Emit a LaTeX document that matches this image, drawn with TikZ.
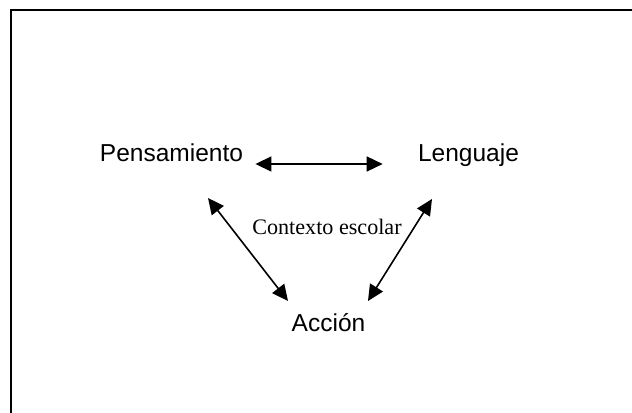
\documentclass[tikz,border=0pt]{standalone}
\usepackage{fontspec}
\setmainfont{Liberation Serif}
\setsansfont{Liberation Sans}
\usepackage{tikz}
\usetikzlibrary{arrows.meta}

\begin{document}
\begin{tikzpicture}[>={Triangle[length=8bp,width=7.5bp]},x=0.5bp,y=-0.5bp]
  \tikzstyle{word}=[inner sep=0pt,anchor=base,font=\sffamily\fontsize{12.3}{14}\selectfont]
  \tikzstyle{ctxtext}=[inner sep=0pt,anchor=base,font=\rmfamily\fontsize{11.1}{13}\selectfont]
  \tikzstyle{link}=[<->,line width=0.8bp]
  \useasboundingbox (0,0) rectangle (632,413);
  % frame (top and left edges only)
  \draw[line width=1bp] (11,413) -- (11,10) -- (632,10);
  \node[word] (pens) at (171.5,162) {Pensamiento};
  \node[word] (leng) at (468.5,162) {Lenguaje};
  \node[ctxtext] (ctx) at (327,235) {Contexto escolar};
  \node[word] (acc) at (328.5,332) {Acción};
  % arrow ends
  \path (pens.base) ++(36.5,36) coordinate (pensS);
  \path (leng.base) ++(-36.5,37) coordinate (lengS);
  \path (acc.base) ++(-40.5,-31) coordinate (accW);
  \path (acc.base) ++(39.5,-31) coordinate (accE);
  \draw[link,shorten <=6bp,shorten >=17.5bp] ([yshift=-1bp]pens.base east) -- ([yshift=-1bp]leng.base west);
  \draw[link] (pensS) -- (accW);
  \draw[link] (lengS) -- (accE);
\end{tikzpicture}
\end{document}
